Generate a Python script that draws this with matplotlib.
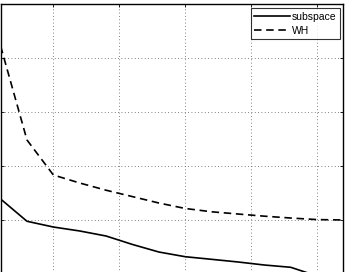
import numpy as np
import matplotlib
matplotlib.use('Agg')
import matplotlib.pyplot as plt

# data
x_vals = [2, 6, 10, 14, 18, 22, 26, 30, 34, 38, 42, 46, 50, 54]
subspace = [1.393, 0.982, 0.876, 0.803, 0.710, 0.554, 0.415, 0.328, 0.280,
            0.231, 0.175, 0.133, -0.028, -0.101]
wh = [4.216, 2.482, 1.836, 1.688, 1.555, 1.437, 1.319, 1.218, 1.157,
      1.116, 1.076, 1.042, 1.013, 1.006]
x_ticks = [10, 20, 30, 40, 50]
y_ticks = [-1, 0, 1, 2, 3, 4, 5]

W, H = 346, 272
fig = plt.figure(figsize=(W / 100, H / 100), dpi=100)

# axes fill the picture; the bottom part (tick labels) is cut off
left_px, right_px = 0.6, 343.5
top_px, zero_px = 3.5, 274.5
unit_px = (zero_px - top_px) / 5.0
bottom_px = zero_px + unit_px  # ylim bottom = -1
ax = fig.add_axes([left_px / W, (H - bottom_px) / H,
                   (right_px - left_px) / W, (bottom_px - top_px) / H])

ax.plot(x_vals, subspace, color='black', lw=1.2, label='subspace')
ax.plot(x_vals, wh, color='black', lw=1.2, linestyle='--', dashes=(4.5, 2.8), label='WH')

ax.set_xlim(2, 54)
ax.set_ylim(-1, 5)
ax.set_xticks(x_ticks)
ax.set_yticks(y_ticks)
ax.tick_params(direction='in', length=2.5, width=0.6, top=True, right=True,
               labelbottom=False, labelleft=False)
ax.grid(True, color='0.35', linestyle=(0, (1, 3)), linewidth=0.6)
for s in ax.spines.values():
    s.set_linewidth(1.0)

leg = ax.legend(loc='upper right', bbox_to_anchor=(340 / W, (H - 8) / H),
                bbox_transform=fig.transFigure, frameon=True,
                fancybox=False, handlelength=3.4, handletextpad=0.2,
                borderpad=0.35, labelspacing=0.4, borderaxespad=0,
                prop={'family': 'Liberation Sans', 'size': 7.5})
leg.get_frame().set_edgecolor('black')
leg.get_frame().set_linewidth(0.8)

fig.savefig('out.png', dpi=100)
